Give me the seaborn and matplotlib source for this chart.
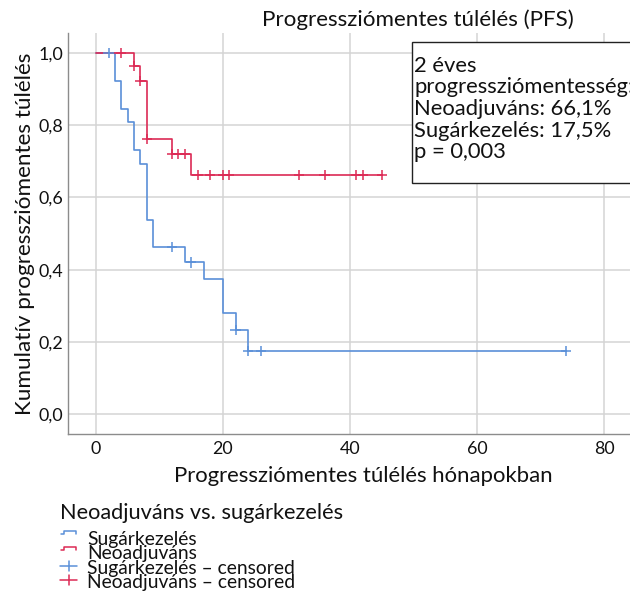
import numpy as np
import pandas as pd
import matplotlib
matplotlib.use("Agg")
import matplotlib.pyplot as plt
import seaborn as sns
from matplotlib.lines import Line2D
from matplotlib.patches import Rectangle

# ---------------- data ----------------
group_names = ["Sugárkezelés", "Neoadjuváns"]
sug_times = [0, 3, 4, 5, 6, 7, 8, 9, 14, 17, 20, 22, 24, 74]
sug_surv = [1.0, 0.923, 0.846, 0.808, 0.731, 0.692, 0.538, 0.462, 0.420, 0.373, 0.280, 0.233, 0.175, 0.175]
sug_censored = [2, 12, 15, 22, 24, 26, 74]
neo_times = [0, 6, 7, 8, 12, 15, 45]
neo_surv = [1.0, 0.964, 0.923, 0.762, 0.720, 0.661, 0.661]
neo_censored = [4, 6, 7, 8, 12, 13, 14, 16, 18, 20, 21, 32, 36, 41, 42, 45]

x_ticks = [0, 20, 40, 60, 80]
y_ticks = [0.0, 0.2, 0.4, 0.6, 0.8, 1.0]
y_tick_labels = ["0,0", "0,2", "0,4", "0,6", "0,8", "1,0"]

title_text = "Progressziómentes túlélés (PFS)"
x_label = "Progressziómentes túlélés hónapokban"
y_label = "Kumulatív progressziómentes túlélés"
legend_title = "Neoadjuváns vs. sugárkezelés"
legend_labels = ["Sugárkezelés", "Neoadjuváns",
                 "Sugárkezelés – censored", "Neoadjuváns – censored"]
box_lines = ["2 éves", "progressziómentesség:", "Neoadjuváns: 66,1%",
             "Sugárkezelés: 17,5%", "p = 0,003"]

colors = {"Sugárkezelés": "#5a8fd8", "Neoadjuváns": "#dc2a55"}

# ---------------- tables ----------------
curve_df = pd.concat([
    pd.DataFrame({"t": sug_times, "s": sug_surv, "group": group_names[0]}),
    pd.DataFrame({"t": neo_times, "s": neo_surv, "group": group_names[1]}),
], ignore_index=True)


def step_value(times, surv, t):
    idx = np.searchsorted(times, t, side="right") - 1
    return np.asarray(surv)[idx]


cens_df = pd.concat([
    pd.DataFrame({"t": sug_censored,
                  "s": step_value(sug_times, sug_surv, sug_censored),
                  "group": group_names[0]}),
    pd.DataFrame({"t": neo_censored,
                  "s": step_value(neo_times, neo_surv, neo_censored),
                  "group": group_names[1]}),
], ignore_index=True)

# ---------------- style ----------------
sns.set_theme(style="whitegrid")
plt.rcParams["font.family"] = ["Lato", "DejaVu Sans"]
plt.rcParams["grid.color"] = "#d4d4d4"
plt.rcParams["grid.linewidth"] = 1.1

W, H = 630, 594
DPI = 100
fig = plt.figure(figsize=(W / DPI, H / DPI), dpi=DPI)
renderer = fig.canvas.get_renderer()


def fx(x):
    return x / W


def fy(y):
    return 1 - y / H


def size_for(s, target_px, base=20.0, vertical=False):
    t = fig.text(0, 0, s, fontsize=base, rotation=90 if vertical else 0)
    bb = t.get_window_extent(renderer=renderer)
    t.remove()
    w = bb.height if vertical else bb.width
    return base * target_px / w


# axes position in pixels: left 68, right 630, top 33, bottom 434
ax = fig.add_axes([fx(68), fy(434), fx(630) - fx(68), fy(33) - fy(434)])

sns.lineplot(data=curve_df, x="t", y="s", hue="group", palette=colors,
             drawstyle="steps-post", estimator=None, sort=False,
             linewidth=1.2, legend=False, ax=ax)
sns.scatterplot(data=cens_df, x="t", y="s", hue="group", palette=colors,
                marker="+", s=55, linewidth=1.1, legend=False, ax=ax, zorder=3)

ax.set_xlim(-4.4, 84.1)
ax.set_ylim(-0.055, 1.055)
ax.set_xticks(x_ticks)
ax.set_yticks(y_ticks)
tick_fs = (size_for("0,8", 27) + size_for("80", 19)) / 2
ax.set_xticklabels([str(v) for v in x_ticks], fontsize=tick_fs, color="#111111")
ax.set_yticklabels(y_tick_labels, fontsize=tick_fs, color="#111111")
ax.tick_params(axis="both", length=0)
ax.tick_params(axis="y", pad=3.6)
ax.tick_params(axis="x", pad=5.0)
ax.set_xlabel("")
ax.set_ylabel("")
for side in ["top", "right"]:
    ax.spines[side].set_visible(False)
for side in ["left", "bottom"]:
    ax.spines[side].set_visible(True)
    ax.spines[side].set_color("#8c8c8c")
    ax.spines[side].set_linewidth(1.0)
ax.grid(True)

# title
fig.text(fx(418), fy(26), title_text, ha="center", va="baseline",
         fontsize=size_for(title_text, 312), color="#111111")
# x label
fig.text(fx(363), fy(482), x_label, ha="center", va="baseline",
         fontsize=size_for(x_label, 380), color="#111111")
# y label
fig.text(fx(31), fy(234), y_label, ha="center", va="baseline", rotation=90,
         rotation_mode="anchor",
         fontsize=size_for(y_label, 363, vertical=True), color="#111111")

# annotation box
fig.add_artist(Rectangle((fx(412), fy(183)), fx(660) - fx(412), fy(42) - fy(183),
                         transform=fig.transFigure, facecolor="white",
                         edgecolor="#222222", linewidth=1.0, zorder=5))
box_fs = size_for(box_lines[2], 198)
for line, base in zip(box_lines, [72, 93, 115, 137, 158]):
    fig.text(fx(414), fy(base), line, ha="left", va="baseline",
             fontsize=box_fs, color="#111111", zorder=6)

# legend (drawn manually below the plot)
fig.text(fx(60), fy(519), legend_title, ha="left", va="baseline",
         fontsize=size_for(legend_title, 283), color="#111111")
ent_fs = size_for(legend_labels[2], 209)
for lab, base in zip(legend_labels, [545, 559, 574, 588]):
    fig.text(fx(87), fy(base), lab, ha="left", va="baseline",
             fontsize=ent_fs, color="#111111")

handle_cols = [colors[group_names[0]], colors[group_names[1]]]
for col, top in zip(handle_cols, [531, 547]):
    xs = [61, 64, 64, 76, 76]
    ys = [top + 3, top + 3, top, top, top + 3]
    fig.add_artist(Line2D([fx(v) for v in xs], [fy(v) for v in ys],
                          transform=fig.transFigure, color=col, linewidth=1.1))
for col, mid in zip(handle_cols, [565.5, 580]):
    fig.add_artist(Line2D([fx(60), fx(77)], [fy(mid), fy(mid)],
                          transform=fig.transFigure, color=col, linewidth=1.1))
    fig.add_artist(Line2D([fx(68.5), fx(68.5)], [fy(mid - 5), fy(mid + 5)],
                          transform=fig.transFigure, color=col, linewidth=1.1))

fig.savefig("out.png", dpi=DPI)
